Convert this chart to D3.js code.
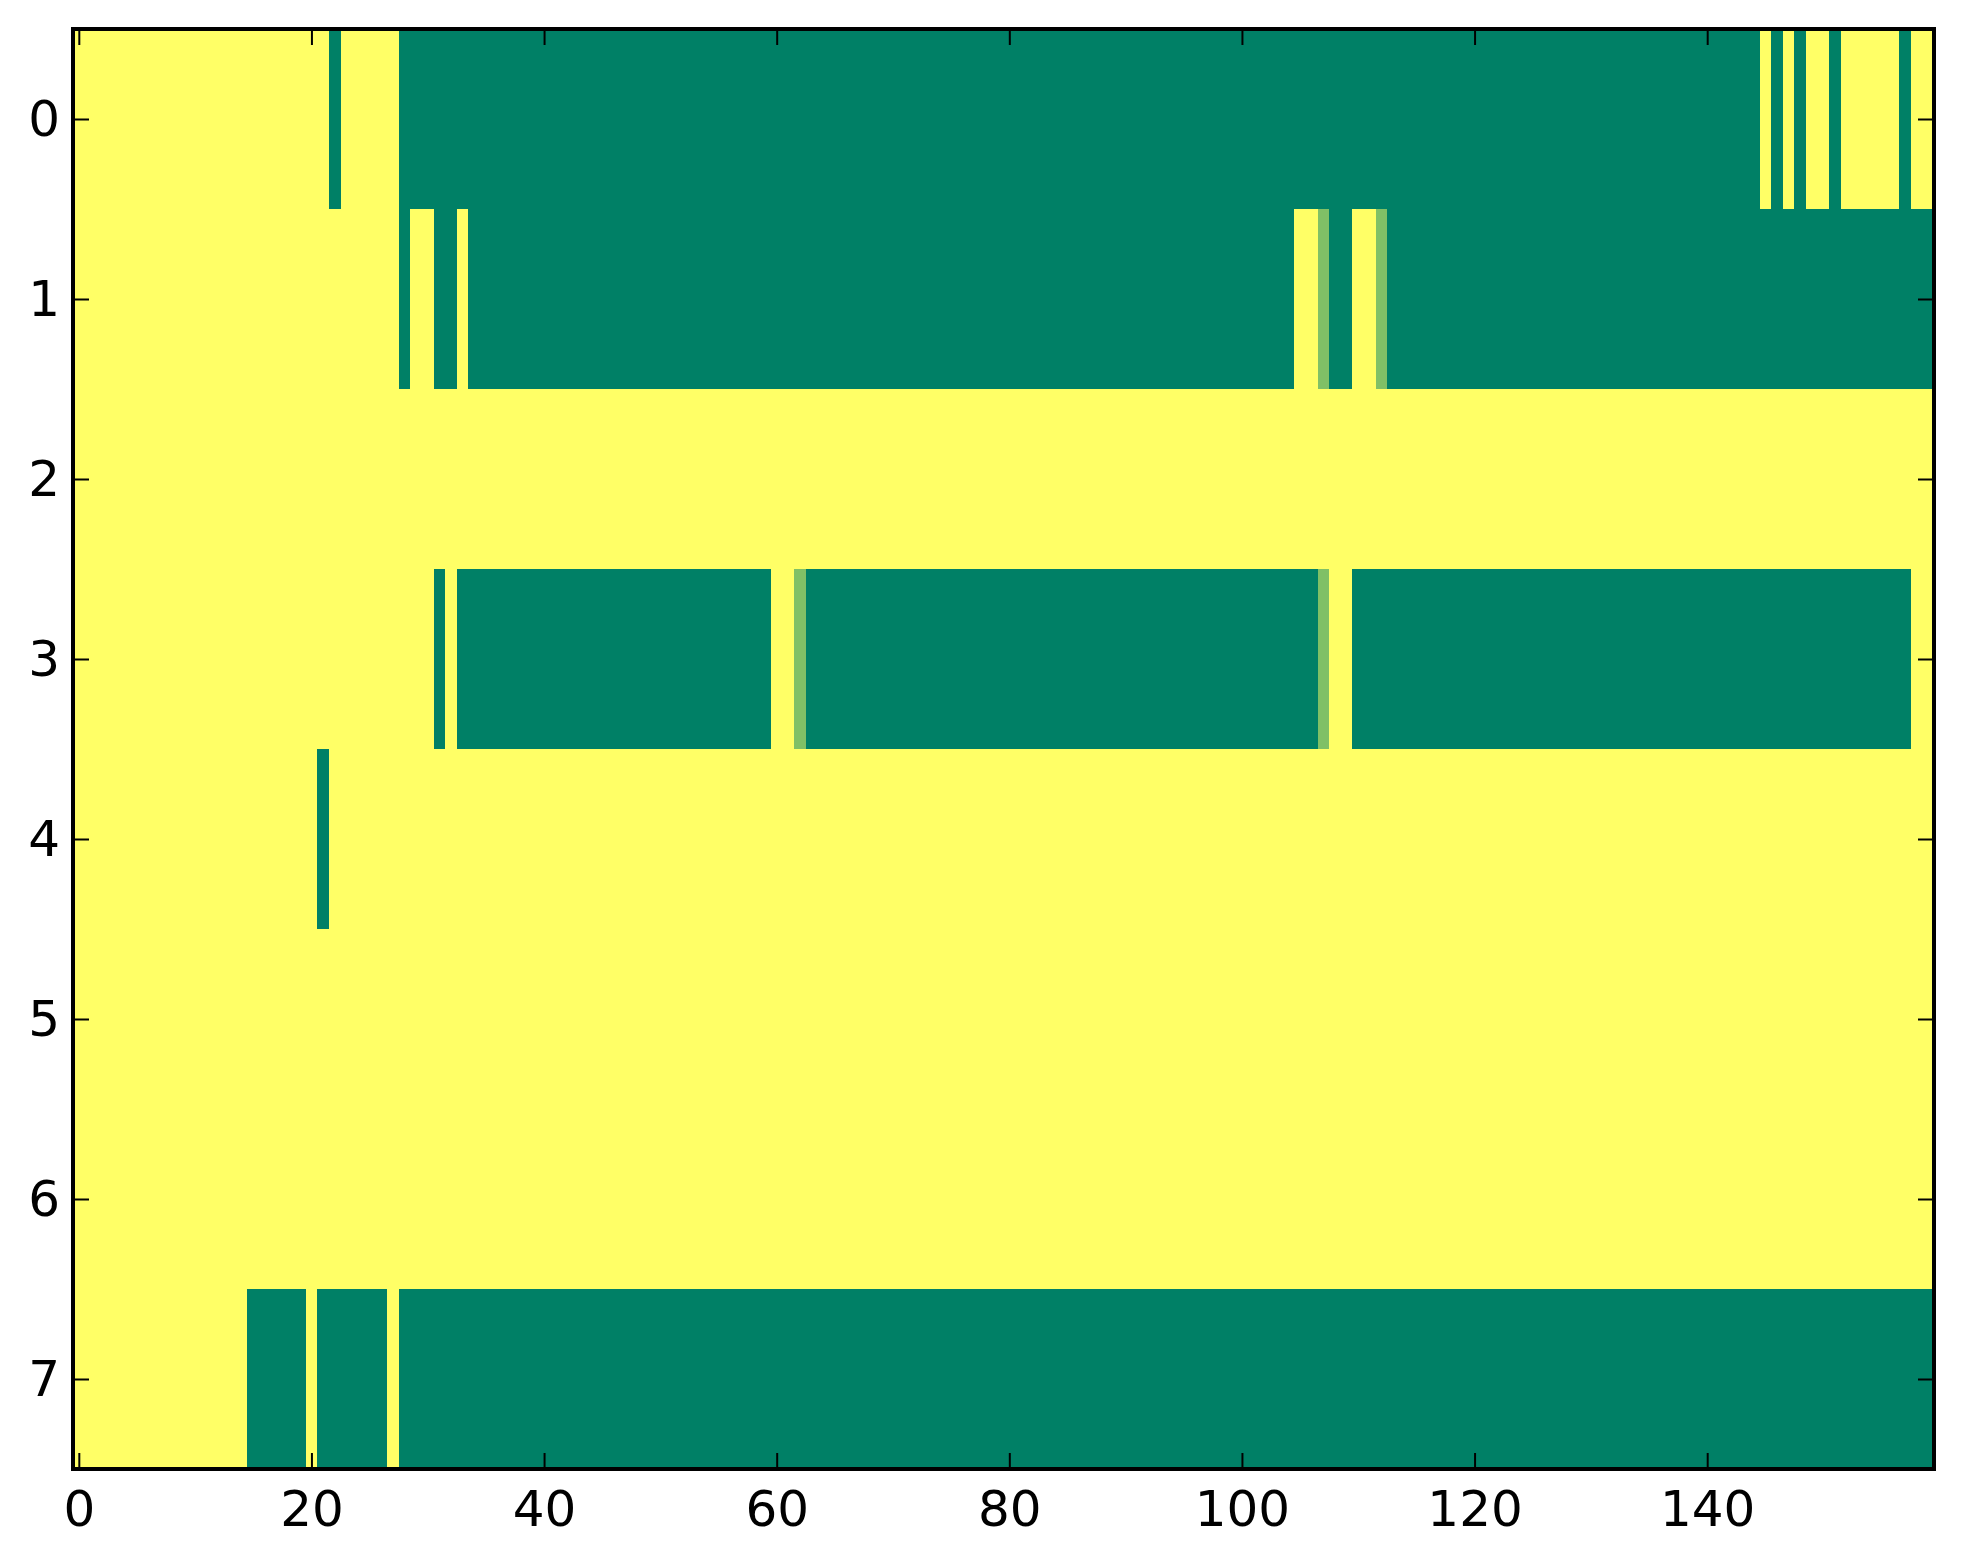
<!DOCTYPE html>
<html>
<head>
<meta charset="utf-8">
<script src="https://cdn.jsdelivr.net/npm/d3@7"></script>
<style>
  body { margin: 0; background: #fff; }
  svg text { font-family: "DejaVu Sans", sans-serif; }
</style>
</head>
<body>
<svg id="chart" width="1963" height="1564"></svg>
<script>
// each row of the image as runs of [value, count], 160 columns per row
var row0 = [[1,22],[0,1],[1,5],[0,117],[1,1],[0,1],[1,1],[0,1],[1,2],[0,1],[1,5],[0,1],[1,2]];
var row1 = [[1,28],[0,1],[1,2],[0,2],[1,1],[0,71],[1,2],[0.5,1],[0,2],[1,2],[0.5,1],[0,47]];
var row2 = [[1,160]];
var row3 = [[1,31],[0,1],[1,1],[0,27],[1,2],[0.5,1],[0,44],[0.5,1],[1,2],[0,48],[1,2]];
var row4 = [[1,21],[0,1],[1,138]];
var row5 = [[1,160]];
var row6 = [[1,160]];
var row7 = [[1,15],[0,5],[1,1],[0,6],[1,1],[0,132]];
var rows = [row0, row1, row2, row3, row4, row5, row6, row7];

var xTicks = [0, 20, 40, 60, 80, 100, 120, 140];
var yTicks = [0, 1, 2, 3, 4, 5, 6, 7];

(function () {
  'use strict';

  var left = 73, right = 1934, top = 29, bottom = 1469;
  var tickLen = 16;

  var svg = d3.select("#chart");

  var x = d3.scaleLinear().domain([-0.5, 159.5]).range([left, right]);
  var y = d3.scaleLinear().domain([-0.5, 7.5]).range([top, bottom]);

  // matplotlib "summer" colormap
  var color = d3.scaleSequential(d3.interpolateRgb("#008066", "#ffff66")).domain([0, 1]);

  // turn runs into segments with a start column
  var segs = [];
  rows.forEach(function (runs, r) {
    var c = 0;
    runs.forEach(function (run) {
      segs.push({ row: r, start: c, count: run[1], value: run[0] });
      c += run[1];
    });
  });

  svg.append("g")
    .attr("class", "cells")
    .selectAll("rect")
    .data(segs)
    .enter().append("rect")
      .attr("x", function (d) { return x(d.start - 0.5); })
      .attr("y", function (d) { return y(d.row - 0.5); })
      .attr("width", function (d) { return x(d.start + d.count - 0.5) - x(d.start - 0.5); })
      .attr("height", function (d) { return y(d.row + 0.5) - y(d.row - 0.5); })
      .attr("fill", function (d) { return color(d.value); })
      .attr("shape-rendering", "crispEdges");

  function styleAxis(g, showText) {
    g.select(".domain").remove();
    g.selectAll(".tick line").attr("stroke", "#000").attr("stroke-width", 2);
    g.selectAll(".tick text")
      .attr("font-size", 50)
      .attr("fill", "#000");
    if (!showText) g.selectAll(".tick text").remove();
  }

  svg.append("g")
    .attr("transform", "translate(0," + bottom + ")")
    .call(d3.axisBottom(x).tickValues(xTicks).tickSizeInner(-tickLen).tickSizeOuter(0).tickPadding(21))
    .call(function (g) { styleAxis(g, true); });

  svg.append("g")
    .attr("transform", "translate(0," + top + ")")
    .call(d3.axisTop(x).tickValues(xTicks).tickSizeInner(-tickLen).tickSizeOuter(0))
    .call(function (g) { styleAxis(g, false); });

  svg.append("g")
    .attr("transform", "translate(" + left + ",0)")
    .call(d3.axisLeft(y).tickValues(yTicks).tickSizeInner(-tickLen).tickSizeOuter(0).tickPadding(13))
    .call(function (g) { styleAxis(g, true); });

  svg.append("g")
    .attr("transform", "translate(" + right + ",0)")
    .call(d3.axisRight(y).tickValues(yTicks).tickSizeInner(-tickLen).tickSizeOuter(0))
    .call(function (g) { styleAxis(g, false); });

  // frame
  svg.append("rect")
    .attr("x", left)
    .attr("y", top)
    .attr("width", right - left)
    .attr("height", bottom - top)
    .attr("fill", "none")
    .attr("stroke", "#000")
    .attr("stroke-width", 4);
})();
</script>
</body>
</html>
